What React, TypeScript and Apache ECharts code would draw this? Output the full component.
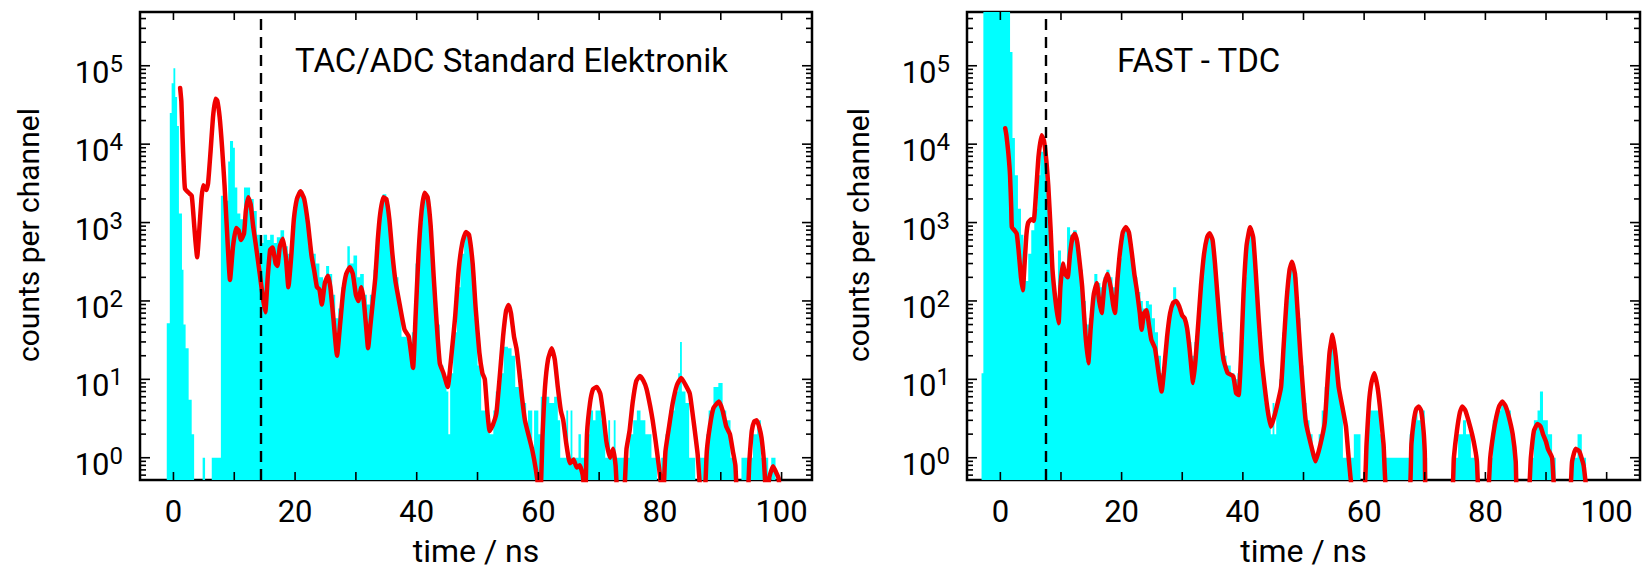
import { useEffect, useRef } from 'react';
import * as echarts from 'echarts';

// ---------- data (time in ns, counts per channel) ----------
const panelTitles = ['TAC/ADC Standard Elektronik', 'FAST - TDC'];
const xAxisName = 'time / ns';
const yAxisName = 'counts per channel';
const dashedLineTimes = [14.4, 7.5];

const xTickValues = [0, 10, 20, 30, 40, 50, 60, 70, 80, 90, 100];
const yMajorTickValues = [1, 10, 100, 1000, 10000, 100000];
const yMinorMultipliers = [2, 3, 4, 5, 6, 7, 8, 9];
const yDecades = [0.1, 1, 10, 100, 1000, 10000, 100000];

// red smoothed spectrum, left panel (TAC/ADC)
const leftRed: number[][] = [
  [1.1, 52000], [1.3, 35000], [1.5, 12000], [1.7, 5000], [1.9, 2700], [2.5, 2400], [3.0, 2200], [3.3, 1200],
  [3.6, 600], [3.9, 360], [4.2, 700], [4.6, 2000], [4.9, 3000], [5.4, 2600], [5.7, 3200], [6.1, 8000],
  [6.5, 22000], [6.9, 38000], [7.2, 36000], [7.6, 22000], [8.0, 9000], [8.4, 3000], [8.8, 800], [9.3, 185],
  [9.8, 500], [10.3, 850], [10.7, 800], [11.1, 600], [11.6, 720], [11.9, 1400], [12.3, 2100], [12.7, 1700],
  [13.1, 900], [13.5, 550], [14.2, 220], [14.7, 110], [15.1, 72], [15.5, 200], [15.9, 450], [16.3, 480],
  [16.8, 300], [17.1, 280], [17.5, 500], [18.0, 620], [18.5, 350], [18.9, 150], [19.4, 400], [19.8, 1100],
  [20.3, 2000], [20.9, 2500], [21.5, 2000], [22.1, 1000], [22.7, 380], [23.2, 230], [23.6, 150], [24.0, 140],
  [24.4, 90], [24.9, 170], [25.4, 210], [25.8, 150], [26.3, 60], [26.9, 20], [27.4, 50], [27.9, 130],
  [28.4, 220], [29.0, 270], [29.5, 220], [30.0, 120], [30.4, 100], [30.9, 150], [31.3, 100], [31.7, 45],
  [32.0, 25], [32.4, 50], [32.8, 100], [33.2, 200], [33.6, 600], [34.0, 1300], [34.5, 2100], [35.0, 2000],
  [35.5, 1100], [36.0, 400], [36.5, 180], [37.2, 90], [38.0, 43], [38.7, 35], [39.4, 14], [39.8, 60],
  [40.3, 400], [40.8, 1400], [41.3, 2400], [41.8, 2100], [42.3, 900], [42.8, 200], [43.3, 50], [43.8, 16],
  [44.4, 12], [45.1, 8], [45.7, 20], [46.3, 60], [46.9, 250], [47.5, 550], [48.1, 760], [48.6, 700],
  [49.2, 300], [49.7, 80], [50.3, 22], [50.8, 12], [51.2, 10], [51.6, 4], [52.0, 2.2], [52.5, 2.6],
  [53.1, 3.7], [53.7, 12], [54.2, 35], [54.7, 75], [55.1, 89], [55.5, 70], [56.0, 35], [56.4, 25],
  [56.8, 14], [57.3, 6], [57.8, 3], [58.5, 1.8], [59.0, 1.26], [59.6, 0.7], [60.3, 0.3], [60.7, 2],
  [61.1, 8], [61.6, 18], [62.2, 25], [62.7, 18], [63.2, 8], [63.7, 4], [64.1, 3], [64.6, 1.5], [65.2, 0.85],
  [65.8, 0.95], [66.3, 0.75], [66.8, 0.8], [67.3, 0.6], [67.7, 0.3], [68.0, 2], [68.5, 5], [69.0, 7.5],
  [69.6, 8], [70.2, 6.5], [70.7, 3.5], [71.2, 1.6], [71.8, 1], [72.3, 1.3], [72.7, 0.8], [73.1, 0.3],
  [74.0, 0.3], [74.5, 1.3], [75.0, 2.2], [75.5, 5], [76.1, 9.5], [76.7, 11], [77.3, 9.5], [77.8, 7.5],
  [78.4, 4.5], [78.8, 3], [79.3, 1.6], [79.8, 0.8], [80.5, 0.3], [80.9, 1.2], [81.5, 2.5], [82.1, 5],
  [82.8, 8.5], [83.5, 10.4], [84.2, 8.5], [84.9, 6.6], [85.3, 4], [85.7, 2.3], [86.2, 1.1], [86.8, 0.3],
  [87.3, 0.3], [87.7, 1.2], [88.2, 2.5], [88.8, 4.3], [89.7, 5.2], [90.3, 4], [90.9, 2.5], [91.5, 2],
  [92.0, 1.2], [92.4, 0.8], [92.8, 0.3], [94.3, 0.3], [94.7, 0.9], [95.1, 2.2], [95.5, 2.9], [95.9, 3],
  [96.3, 2.5], [96.7, 1.8], [97.1, 0.9], [97.5, 0.3], [98.0, 0.57], [98.6, 0.78], [99.1, 0.65], [99.5, 0.55],
  [99.8, 0.3],
];

// cyan raw histogram, left panel: [bin start, counts] (0.01 = empty bin)
const leftCyan: number[][] = [
  [-1.1, 52], [-0.6, 25000], [-0.3, 60000], [0.0, 93000], [0.3, 40000], [0.6, 17000], [0.9, 1300], [1.4, 250],
  [1.65, 50], [2.0, 25], [2.5, 5.5], [3.0, 2], [3.4, 0.01], [4.8, 1], [5.2, 0.01], [6.3, 1], [7.8, 2200],
  [8.4, 1900], [9.0, 6000], [9.3, 11000], [9.8, 9000], [10.1, 2800], [10.5, 1300], [11.0, 1100], [11.6, 2800],
  [12.2, 2800], [12.6, 2000], [13.2, 1400], [13.7, 700], [14.3, 550], [14.8, 700], [15.4, 600], [15.9, 700],
  [16.5, 550], [17.0, 650], [17.6, 800], [18.2, 500], [18.8, 400], [19.4, 900], [20.0, 1800], [20.5, 2600],
  [21.2, 2200], [21.7, 1100], [22.2, 500], [22.8, 400], [23.4, 300], [24.0, 200], [24.6, 180], [25.1, 280],
  [25.6, 220], [26.1, 120], [26.6, 60], [27.1, 80], [27.6, 150], [28.1, 200], [28.6, 500], [29.0, 300],
  [29.6, 380], [30.2, 200], [30.7, 220], [31.3, 120], [31.8, 90], [32.3, 120], [32.9, 250], [33.4, 700],
  [33.9, 1500], [34.4, 2300], [35.0, 1700], [35.5, 700], [36.0, 250], [36.5, 200], [37.0, 90], [37.5, 35],
  [38.5, 30], [39.2, 40], [39.8, 300], [40.4, 1000], [41.0, 2300], [41.6, 2000], [42.2, 800], [42.7, 150],
  [43.2, 50], [43.8, 15], [44.4, 10], [44.9, 7], [45.2, 2], [45.5, 12], [46.0, 40], [46.6, 150], [47.2, 400],
  [47.8, 700], [48.4, 650], [49.0, 300], [49.5, 60], [50.0, 15], [50.6, 4], [51.4, 3], [52.0, 2], [52.6, 4],
  [53.0, 7], [53.4, 10], [53.8, 12], [54.3, 26], [55.0, 25], [55.6, 20], [56.2, 8], [56.8, 10], [57.4, 5],
  [58.0, 2], [58.3, 4], [59.0, 1], [59.3, 4], [60.0, 2], [60.4, 6], [61.0, 6], [61.8, 5], [62.6, 6], [63.2, 3],
  [63.6, 1], [64.6, 4], [64.9, 1], [65.3, 4], [65.6, 1], [66.6, 2], [67.0, 1], [68.0, 2], [68.4, 4], [69.0, 3],
  [69.4, 4], [70.4, 3], [71.0, 1], [71.5, 3], [71.8, 1], [72.4, 3], [72.7, 1], [75.0, 2], [75.6, 3], [76.2, 4],
  [76.8, 3], [77.6, 2], [78.6, 1], [79.5, 0.01], [80.2, 1], [80.9, 2], [81.5, 4], [82.4, 7], [83.0, 12],
  [83.3, 30], [83.6, 7], [84.2, 5], [84.8, 1], [85.8, 0.01], [86.6, 1], [87.6, 2], [88.0, 4], [88.8, 8],
  [89.6, 9], [90.3, 4], [90.9, 3], [91.6, 1], [92.5, 0.01], [93.4, 1], [94.7, 1], [95.3, 2], [96.0, 3],
  [96.6, 1], [97.8, 0.01], [98.3, 1], [99.0, 0.01], [105, 0.01],
];

// red smoothed spectrum, right panel (FAST - TDC)
const rightRed: number[][] = [
  [0.8, 16000], [1.0, 13000], [1.3, 8000], [1.6, 4000], [1.8, 1500], [1.9, 870], [2.3, 800], [2.7, 720],
  [3.0, 450], [3.4, 200], [3.7, 137], [4.0, 300], [4.3, 700], [4.6, 1000], [5.1, 1100], [5.5, 1050],
  [5.9, 2500], [6.3, 7000], [6.8, 13000], [7.2, 11000], [7.6, 6000], [7.9, 3000], [8.3, 800], [8.6, 250],
  [9.1, 100], [9.6, 52], [9.9, 150], [10.3, 300], [10.7, 220], [11.1, 200], [11.5, 400], [11.9, 650],
  [12.3, 720], [12.7, 550], [13.1, 300], [13.5, 150], [14.0, 40], [14.5, 16], [14.9, 45], [15.4, 120],
  [15.9, 170], [16.3, 100], [16.7, 70], [17.2, 170], [17.7, 220], [18.2, 150], [18.6, 90], [18.9, 70],
  [19.3, 180], [19.7, 400], [20.2, 750], [20.7, 880], [21.2, 750], [21.7, 400], [22.1, 220], [22.5, 140],
  [23.0, 70], [23.3, 43], [23.7, 70], [24.1, 76], [24.5, 50], [24.9, 32], [25.5, 25], [26.1, 12], [26.6, 7],
  [27.0, 13], [27.5, 35], [28.0, 70], [28.5, 95], [29.0, 100], [29.5, 85], [30.0, 65], [30.4, 60], [30.8, 45],
  [31.2, 25], [31.8, 9], [32.2, 18], [32.7, 60], [33.1, 160], [33.6, 400], [34.1, 650], [34.5, 730],
  [35.0, 600], [35.4, 300], [35.8, 120], [36.3, 40], [36.8, 18], [37.5, 12], [38.4, 11], [38.9, 6.6],
  [39.3, 6.3], [39.7, 20], [40.1, 120], [40.6, 500], [41.2, 870], [41.7, 650], [42.1, 250], [42.6, 60],
  [43.1, 18], [43.6, 8], [44.1, 4], [44.6, 2.5], [45.0, 3], [45.6, 4.5], [46.3, 8], [46.7, 25], [47.2, 100],
  [47.7, 250], [48.1, 316], [48.6, 220], [49.0, 80], [49.5, 20], [50.0, 6], [50.4, 2.8], [51.2, 1.5],
  [52.0, 0.9], [52.8, 1.5], [53.5, 2.8], [53.9, 8], [54.3, 22], [54.8, 37], [55.3, 20], [55.8, 8],
  [56.4, 4.5], [57.0, 2.5], [57.5, 0.9], [58.3, 0.3], [59.9, 0.3], [60.4, 1.5], [60.8, 5], [61.2, 9],
  [61.7, 12], [62.2, 8], [62.6, 4.5], [63.2, 1.5], [63.9, 0.3], [67.3, 0.3], [67.8, 1.5], [68.2, 3],
  [68.6, 4.2], [69.0, 4.5], [69.4, 4], [69.8, 2.2], [70.0, 1.2], [70.3, 0.3], [74.3, 0.3], [74.8, 1],
  [75.3, 2.2], [75.8, 3.8], [76.2, 4.5], [76.7, 4], [77.2, 3], [77.8, 2], [78.3, 1.3], [78.6, 0.9],
  [79.0, 0.3], [80.3, 0.3], [80.8, 1], [81.3, 2], [81.8, 3.3], [82.3, 4.6], [82.8, 5.2], [83.3, 4.6],
  [83.8, 3.5], [84.5, 2], [85.0, 0.9], [85.3, 0.3], [87.0, 0.3], [87.5, 1], [88.0, 2.2], [88.6, 2.7],
  [89.1, 2.5], [89.5, 2], [90.0, 1.6], [90.3, 1.3], [91.0, 1], [91.6, 0.3], [93.8, 0.3], [94.3, 0.9],
  [94.9, 1.3], [95.5, 1.2], [96.2, 0.8], [96.8, 0.3],
];

// cyan raw histogram, right panel: [bin start, counts] (0.01 = empty bin)
const rightCyan: number[][] = [
  [-3.1, 12], [-2.8, 2000000], [1.6, 150000], [2.0, 12000], [2.4, 4000], [2.9, 1500], [3.4, 700], [3.8, 250],
  [4.2, 180], [4.6, 400], [5.1, 800], [5.6, 1500], [6.1, 4000], [6.6, 8000], [7.1, 9000], [7.6, 3500],
  [8.0, 800], [8.5, 200], [9.0, 100], [9.5, 440], [10.0, 300], [10.5, 250], [11.0, 870], [11.5, 700],
  [12.0, 800], [12.6, 500], [13.1, 250], [13.6, 100], [14.1, 50], [14.6, 60], [15.1, 120], [15.5, 220],
  [16.0, 170], [16.5, 150], [17.0, 200], [17.5, 250], [18.0, 200], [18.5, 150], [19.0, 200], [19.5, 350],
  [20.0, 700], [20.5, 800], [21.1, 700], [21.6, 350], [22.1, 200], [22.6, 130], [23.1, 100], [23.5, 80],
  [24.0, 100], [24.5, 90], [25.0, 60], [25.5, 40], [26.0, 20], [26.5, 12], [27.0, 25], [27.5, 50], [28.0, 80],
  [28.5, 150], [29.0, 100], [29.5, 80], [30.0, 60], [30.5, 50], [31.0, 30], [31.5, 20], [32.0, 30], [32.5, 80],
  [33.0, 200], [33.6, 450], [34.1, 650], [34.7, 600], [35.2, 300], [35.7, 100], [36.2, 40], [36.8, 20],
  [37.3, 15], [38.0, 12], [38.6, 10], [39.1, 12], [39.6, 30], [40.1, 200], [40.6, 600], [41.1, 800],
  [41.6, 500], [42.1, 150], [42.6, 40], [43.1, 12], [43.6, 5], [44.1, 3], [44.6, 2], [44.9, 5], [45.2, 2],
  [45.5, 5], [46.0, 10], [46.5, 40], [47.0, 100], [47.5, 250], [48.0, 280], [48.5, 200], [49.0, 60],
  [49.5, 15], [50.0, 5], [50.5, 3], [51.0, 2], [51.5, 1], [52.5, 2], [53.0, 4], [53.5, 8], [54.0, 20],
  [54.5, 30], [55.0, 25], [55.5, 10], [56.0, 5], [56.5, 1], [58.3, 2], [59.4, 0.01], [60.0, 1], [60.5, 3],
  [61.0, 4], [62.0, 4], [62.6, 2], [63.1, 1], [67.5, 2], [68.2, 4], [68.8, 3], [69.4, 4], [70.0, 1],
  [70.4, 0.01], [74.7, 1], [75.5, 2], [76.3, 3], [76.8, 2], [77.6, 1], [78.5, 0.01], [80.5, 1], [81.2, 3],
  [82.0, 4], [82.6, 5], [83.4, 4], [84.2, 2], [84.8, 0.01], [87.4, 1], [88.0, 3], [88.6, 4], [89.0, 7],
  [89.5, 3], [90.3, 2], [91.0, 1], [91.6, 0.01], [94.3, 1], [95.2, 2], [95.9, 1], [96.6, 0.01], [105.5, 0.01],
];

// ---------- styling ----------
const CYAN = '#00ffff';
const RED = '#f00000';
const FONT = 'Roboto';

const yMinorTickValues: number[] = [];
yDecades.forEach((d) => yMinorMultipliers.forEach((m) => yMinorTickValues.push(+(d * m).toPrecision(3))));

const Y_MIN = 0.52;
const Y_MAX = 485000;

const tickData: number[][] = [
  ...yMajorTickValues.map((v) => [0, v, 0]),
  ...yMinorTickValues.filter((v) => v > Y_MIN && v < Y_MAX).map((v) => [0, v, 1]),
  ...xTickValues.map((v) => [v, 1, 2]),
];

function renderTicks(params: any, api: any) {
  const cs = params.coordSys;
  const kind = api.value(2);
  const style = { stroke: '#000', lineWidth: 1.6 };
  if (kind <= 1) {
    const y = api.coord([0, api.value(1)])[1];
    const len = kind === 0 ? 10 : 6;
    return {
      type: 'group',
      children: [
        { type: 'line', shape: { x1: cs.x, y1: y, x2: cs.x + len, y2: y }, style },
        { type: 'line', shape: { x1: cs.x + cs.width, y1: y, x2: cs.x + cs.width - len, y2: y }, style },
      ],
    };
  }
  const x = api.coord([api.value(0), 1])[0];
  const len = 8;
  return {
    type: 'group',
    children: [
      { type: 'line', shape: { x1: x, y1: cs.y, x2: x, y2: cs.y + len }, style },
      { type: 'line', shape: { x1: x, y1: cs.y + cs.height, x2: x, y2: cs.y + cs.height - len }, style },
    ],
  };
}

function yLabel(v: number) {
  const l = Math.log10(v);
  const e = Math.round(l);
  if (Math.abs(l - e) > 1e-6) return '';
  return `{b|10}{s|${e}}`;
}

function xLabel(v: number) {
  if (Math.abs(v - Math.round(v)) > 1e-9 || Math.round(v) % 20 !== 0) return '';
  return String(Math.round(v));
}

function buildOption() {
  const grids = [
    { left: 140, top: 12, width: 672, height: 468 },
    { left: 967, top: 12, width: 675, height: 468 },
  ];
  const xMax = [105, 105.5];
  const yNameGap = [97, 94];
  const titleLeft = [295, 1117];
  const reds = [leftRed, rightRed];
  const cyans = [leftCyan, rightCyan];

  const series: any[] = [];
  [0, 1].forEach((i) => {
    series.push({
      type: 'line',
      xAxisIndex: i,
      yAxisIndex: i,
      data: cyans[i],
      step: 'end',
      symbol: 'none',
      silent: true,
      lineStyle: { width: 0, opacity: 0 },
      areaStyle: { color: CYAN, opacity: 1, origin: 'start' },
      z: 1,
    });
    series.push({
      type: 'line',
      xAxisIndex: i,
      yAxisIndex: i,
      data: reds[i],
      symbol: 'none',
      smooth: 0.15,
      silent: true,
      lineStyle: { color: RED, width: 4.5, join: 'round', cap: 'round' },
      z: 2,
      markLine: {
        silent: true,
        symbol: ['none', 'none'],
        label: { show: false },
        lineStyle: { color: '#000', width: 2.4, type: [11, 7] },
        data: [{ xAxis: dashedLineTimes[i] }],
        z: 3,
      },
    });
    series.push({
      type: 'custom',
      xAxisIndex: i,
      yAxisIndex: i,
      data: tickData,
      renderItem: renderTicks,
      silent: true,
      z: 5,
    });
  });

  return {
    animation: false,
    backgroundColor: '#ffffff',
    textStyle: { fontFamily: FONT },
    title: [0, 1].map((i) => ({
      text: panelTitles[i],
      left: titleLeft[i],
      top: 44,
      padding: 0,
      textStyle: { fontFamily: FONT, fontSize: 33, fontWeight: 'normal', color: '#000' },
    })),
    grid: grids.map((g) => ({
      ...g,
      show: true,
      borderColor: '#000',
      borderWidth: 2.5,
      backgroundColor: 'transparent',
      containLabel: false,
    })),
    xAxis: [0, 1].map((i) => ({
      type: 'value',
      gridIndex: i,
      min: -5.5,
      max: xMax[i],
      splitNumber: 5,
      name: xAxisName,
      nameLocation: 'middle',
      nameGap: 55,
      nameTextStyle: { fontFamily: FONT, fontSize: 32, color: '#000' },
      axisLine: { show: false },
      axisTick: { show: false },
      splitLine: { show: false },
      axisLabel: { fontFamily: FONT, fontSize: 31, color: '#000', margin: 16, formatter: xLabel },
    })),
    yAxis: [0, 1].map((i) => ({
      type: 'log',
      logBase: 10,
      gridIndex: i,
      min: Y_MIN,
      max: Y_MAX,
      name: yAxisName,
      nameLocation: 'middle',
      nameGap: yNameGap[i],
      nameTextStyle: { fontFamily: FONT, fontSize: 30, color: '#000', padding: [0, 0, 0, 22] },
      axisLine: { show: false },
      axisTick: { show: false },
      splitLine: { show: false },
      minorTick: { show: false },
      axisLabel: {
        margin: 17,
        color: '#000',
        fontFamily: FONT,
        formatter: yLabel,
        rich: {
          b: { fontFamily: FONT, fontSize: 31, color: '#000', padding: [13, 0, 0, 0] },
          s: { fontFamily: FONT, fontSize: 24, color: '#000', padding: [0, 0, 4, 0] },
        },
      },
    })),
    series,
  };
}

export default function App() {
  const ref = useRef<HTMLDivElement>(null);
  useEffect(() => {
    if (!ref.current) return;
    const chart = echarts.init(ref.current, null, { renderer: 'svg' });
    chart.setOption(buildOption() as any);
    return () => chart.dispose();
  }, []);
  return (
    <div
      ref={ref}
      style={{ position: 'fixed', left: 0, top: 0, width: 1643, height: 572, background: '#fff' }}
    />
  );
}
